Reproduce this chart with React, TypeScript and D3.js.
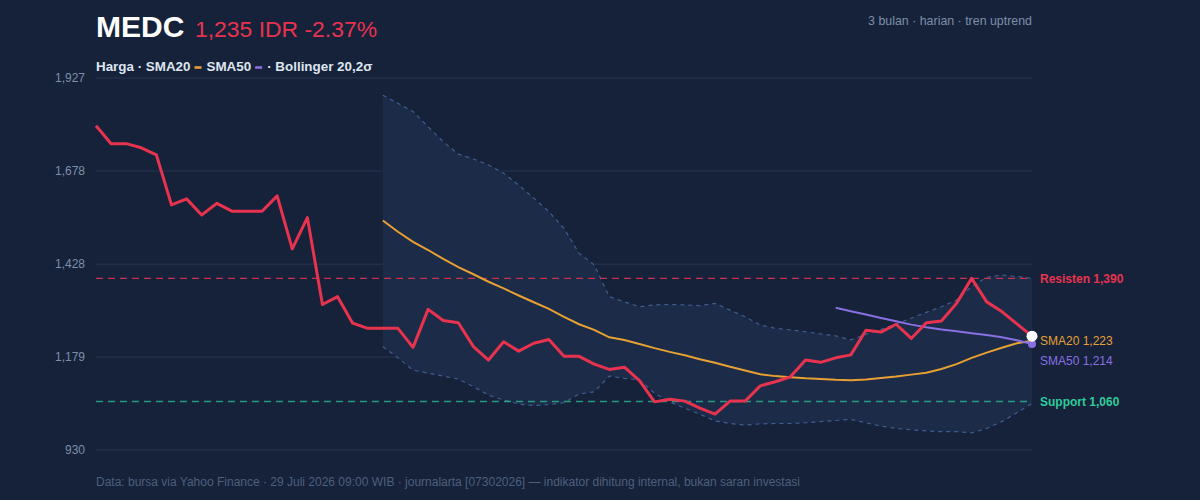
import React, { useRef, useEffect } from 'react'
import * as d3 from 'd3'

// MEDC daily close, last 3 months (63 sessions)
const price = [
	1799, 1751, 1751, 1740, 1721, 1587, 1603, 1560, 1591, 1570, 1570, 1570, 1611, 1469, 1553, 1320,
	1341, 1270, 1256, 1256, 1256, 1205, 1307, 1277, 1271, 1207, 1171, 1220, 1195, 1216, 1226, 1181,
	1181, 1160, 1146, 1152, 1116, 1059, 1066, 1061, 1042, 1026, 1061, 1061, 1102, 1113, 1126, 1171,
	1165, 1177, 1185, 1251, 1246, 1267, 1229, 1271, 1276, 1323, 1390, 1327, 1301, 1268, 1235,
]

const sma20Start = 19
const sma20 = [
	1545, 1515, 1488, 1466, 1442, 1420, 1401, 1381, 1363, 1344, 1326, 1308, 1287, 1267, 1252, 1232,
	1225, 1214, 1203, 1193, 1184, 1173, 1164, 1153, 1143, 1133, 1128, 1125, 1122, 1120, 1118, 1117,
	1119, 1123, 1127, 1132, 1137, 1147, 1160, 1177, 1191, 1204, 1216, 1223,
]

const sma50Start = 49
const sma50 = [1311, 1302, 1293, 1284, 1275, 1266, 1259, 1253, 1248, 1243, 1238, 1232, 1224, 1214]

const bandStart = 19
const bbUpper = [
	1881, 1859, 1837, 1796, 1756, 1723, 1710, 1694, 1672, 1640, 1605, 1569, 1524, 1457, 1426, 1341,
	1327, 1314, 1319, 1320, 1319, 1317, 1323, 1305, 1287, 1265, 1256, 1252, 1247, 1241, 1236, 1225,
	1240, 1253, 1268, 1283, 1299, 1314, 1332, 1368, 1393, 1399, 1395, 1390,
]
const bbLower = [
	1207, 1177, 1144, 1136, 1128, 1120, 1100, 1077, 1064, 1053, 1049, 1052, 1057, 1080, 1086, 1128,
	1122, 1118, 1082, 1059, 1042, 1026, 1008, 1001, 997, 1000, 1001, 1001, 1003, 1006, 1009, 1012,
	1003, 994, 988, 984, 981, 979, 979, 976, 988, 1006, 1030, 1055,
]

const yTicks = [930, 1179, 1428, 1678, 1927]
const resistance = 1390
const support = 1060
const changePct = -2.37

const W = 1200
const H = 500
const FONT = "'Liberation Sans', Arial, Helvetica, sans-serif"

const C = {
	bg: '#15223a',
	grid: '#212f4a',
	axis: '#7e8ea9',
	red: '#e8334f',
	orange: '#e6a033',
	purple: '#8a6fe3',
	green: '#2fcc9b',
	band: '#1c2b48',
	bandLine: '#3f5d8f',
	muted: '#4e5f7d',
}

const fmt = d3.format(',')

export default function App() {
	const legendRef = useRef<SVGGElement>(null)

	const x = d3.scaleLinear().domain([0, price.length - 1]).range([96, 1032])
	const y = d3.scaleLinear().domain([930, 1927]).range([450, 78])

	const priceLine = d3
		.line<number>()
		.x((d, i) => x(i))
		.y((d) => y(d))
	const sma20Line = d3
		.line<number>()
		.x((d, i) => x(i + sma20Start))
		.y((d) => y(d))
	const sma50Line = d3
		.line<number>()
		.x((d, i) => x(i + sma50Start))
		.y((d) => y(d))
	const bandX = (i: number) => x(i + bandStart)
	const bandArea = d3
		.area<number>()
		.x((d, i) => bandX(i))
		.y0((d, i) => y(bbLower[i]))
		.y1((d) => y(d))
	const bandLine = d3
		.line<number>()
		.x((d, i) => bandX(i))
		.y((d) => y(d))

	const last = price.length - 1
	const sma20Last = sma20[sma20.length - 1]
	const sma50Last = sma50[sma50.length - 1]

	useEffect(() => {
		// legend: text pieces with little colour swatches in between
		const g = d3.select(legendRef.current)
		g.selectAll('*').remove()
		const parts = [
			{ t: 'Harga · SMA20' },
			{ sw: C.orange },
			{ t: 'SMA50' },
			{ sw: C.purple },
			{ t: '· Bollinger 20,2σ' },
		]
		let cx = 0
		parts.forEach((p) => {
			if (p.t) {
				const t = g
					.append('text')
					.attr('x', cx)
					.attr('y', 0)
					.attr('fill', '#dfe6f0')
					.attr('font-size', 13.4)
					.attr('font-weight', 700)
					.text(p.t)
				cx += (t.node() as SVGTextElement).getComputedTextLength() + 4
			} else {
				g.append('rect')
					.attr('x', cx)
					.attr('y', -4.8)
					.attr('width', 7)
					.attr('height', 2.6)
					.attr('fill', p.sw as string)
				cx += 7 + 5
			}
		})
	}, [])

	return (
		<svg
			width={W}
			height={H}
			style={{ position: 'absolute', left: 0, top: 0, background: C.bg, fontFamily: FONT }}
		>
			<rect width={W} height={H} fill={C.bg} />

			{/* header */}
			<text x={96} y={37} fill="#ffffff" fontSize={30} fontWeight={700}>
				MEDC
			</text>
			<text x={195} y={37} fill={C.red} fontSize={22.9}>
				{fmt(price[last])} IDR {changePct.toFixed(2)}%
			</text>
			<text x={1032} y={25} fill={C.axis} fontSize={12.4} textAnchor="end">
				3 bulan · harian · tren uptrend
			</text>
			<g ref={legendRef} transform="translate(96,71)" fontFamily={FONT} />

			{/* grid + y axis */}
			{yTicks.map((t) => (
				<g key={t}>
					<line x1={96} x2={1032} y1={y(t)} y2={y(t)} stroke={C.grid} strokeWidth={1.5} />
					<text x={85} y={y(t)} dy="0.35em" textAnchor="end" fill={C.axis} fontSize={12}>
						{fmt(t)}
					</text>
				</g>
			))}

			{/* bollinger band */}
			<path d={bandArea(bbUpper) || ''} fill={C.band} />
			<path
				d={bandLine(bbUpper) || ''}
				fill="none"
				stroke={C.bandLine}
				strokeWidth={1.2}
				strokeDasharray="4 4"
			/>
			<path
				d={bandLine(bbLower) || ''}
				fill="none"
				stroke={C.bandLine}
				strokeWidth={1.2}
				strokeDasharray="4 4"
			/>

			{/* support / resistance */}
			<line
				x1={96}
				x2={1032}
				y1={y(resistance)}
				y2={y(resistance)}
				stroke={C.red}
				strokeOpacity={0.85}
				strokeWidth={1.4}
				strokeDasharray="7 5"
			/>
			<line
				x1={96}
				x2={1032}
				y1={y(support)}
				y2={y(support)}
				stroke={C.green}
				strokeOpacity={0.7}
				strokeWidth={1.4}
				strokeDasharray="7 5"
			/>

			{/* moving averages */}
			<path d={sma20Line(sma20) || ''} fill="none" stroke={C.orange} strokeWidth={2} />
			<path d={sma50Line(sma50) || ''} fill="none" stroke={C.purple} strokeWidth={2} />

			{/* price */}
			<path
				d={priceLine(price) || ''}
				fill="none"
				stroke={C.red}
				strokeWidth={3}
				strokeLinejoin="round"
			/>
			<circle cx={x(last)} cy={y(sma50Last)} r={4} fill={C.purple} />
			<circle cx={x(last)} cy={y(price[last])} r={5.5} fill="#ffffff" />

			{/* right-hand labels */}
			<text x={1040} y={y(resistance)} dy="0.35em" fill={C.red} fontSize={12} fontWeight={700}>
				Resisten {fmt(resistance)}
			</text>
			<text x={1040} y={y(sma20Last)} dy="0.35em" fill={C.orange} fontSize={12}>
				SMA20 {fmt(sma20Last)}
			</text>
			<text x={1040} y={y(sma20Last) + 20} dy="0.35em" fill={C.purple} fontSize={12}>
				SMA50 {fmt(sma50Last)}
			</text>
			<text x={1040} y={y(support)} dy="0.35em" fill={C.green} fontSize={12} fontWeight={700}>
				Support {fmt(support)}
			</text>

			{/* footer */}
			<text x={96} y={486} fill={C.muted} fontSize={12}>
				Data: bursa via Yahoo Finance · 29 Juli 2026 09:00 WIB · journalarta [07302026] — indikator
				dihitung internal, bukan saran investasi
			</text>
		</svg>
	)
}
